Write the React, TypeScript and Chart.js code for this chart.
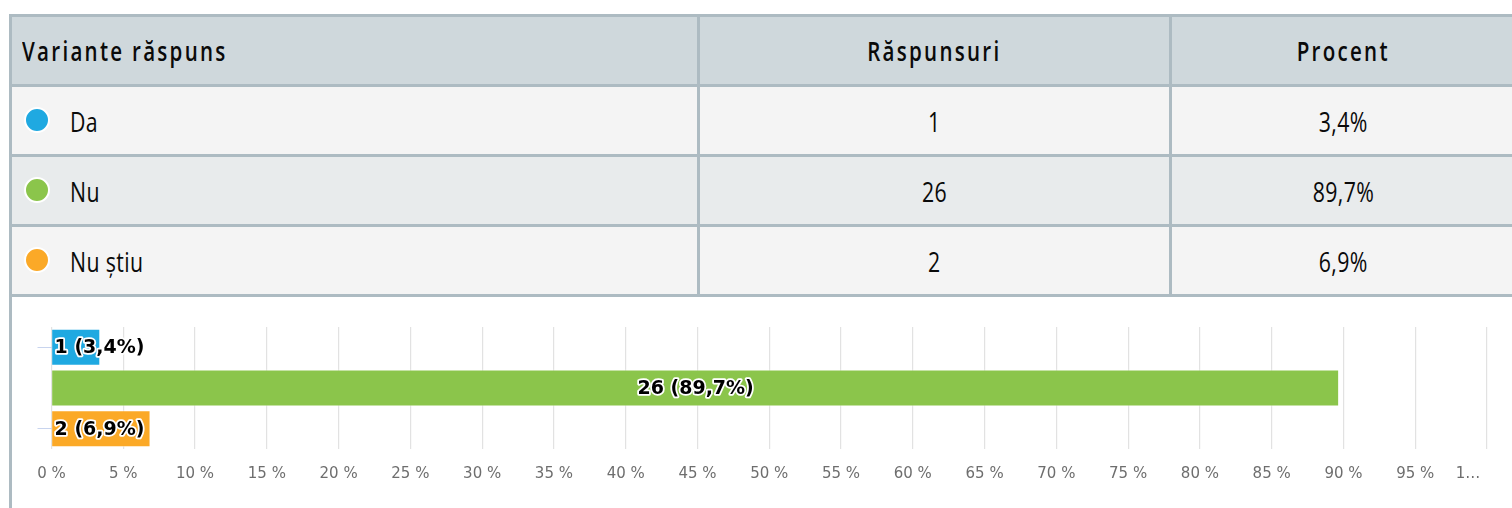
import React, { useEffect, useRef } from "react";
import { Chart, registerables } from "chart.js";

Chart.register(...registerables);

// ---- data ----
const categories = ["Da", "Nu", "Nu știu"];
const responses = [1, 26, 2];
const percents = [3.4, 89.7, 6.9];
const percentLabels = ["3,4%", "89,7%", "6,9%"];
const colors = ["#1fa9e1", "#8bc54b", "#fba927"];
const headers = ["Variante răspuns", "Răspunsuri", "Procent"];
const xTickLabels = [
  "0 %", "5 %", "10 %", "15 %", "20 %", "25 %", "30 %", "35 %", "40 %", "45 %",
  "50 %", "55 %", "60 %", "65 %", "70 %", "75 %", "80 %", "85 %", "90 %", "95 %",
  "1…\u00a0\u00a0\u00a0\u00a0\u00a0\u00a0\u00a0\u00a0",
];

const BORDER = "#adbbc2";
const TABLE_FONT = "'Open Sans', 'Noto Sans', sans-serif";
const SCALE_X = 0.76;

const barLabelPlugin = {
  id: "barLabels",
  afterDatasetsDraw(chart: any) {
    const ctx = chart.ctx;
    const meta = chart.getDatasetMeta(0);
    ctx.save();
    ctx.font = "bold 19px 'DejaVu Sans'";
    ctx.textBaseline = "middle";
    ctx.lineJoin = "round";
    meta.data.forEach((bar: any, i: number) => {
      const text = `${responses[i]} (${percentLabels[i]})`;
      const w = ctx.measureText(text).width;
      const { x, y, base } = bar.getProps(["x", "y", "base"], true);
      const bw = x - base;
      let tx: number;
      if (w + 10 < bw) {
        ctx.textAlign = "center";
        tx = (x + base) / 2;
      } else {
        ctx.textAlign = "left";
        tx = base + 2.5;
      }
      ctx.lineWidth = 3.5;
      ctx.strokeStyle = "#ffffff";
      ctx.strokeText(text, tx, y + 1);
      ctx.fillStyle = "#000000";
      ctx.fillText(text, tx, y + 1);
    });
    ctx.restore();
  },
};

function BarChart() {
  const ref = useRef<HTMLCanvasElement | null>(null);
  useEffect(() => {
    if (!ref.current) return;
    const chart = new Chart(ref.current, {
      type: "bar",
      data: {
        labels: categories,
        datasets: [
          {
            data: percents,
            backgroundColor: colors,
            borderColor: "rgba(255,255,255,0.6)",
            borderWidth: 1,
            categoryPercentage: 1,
            barPercentage: 0.91,
          },
        ],
      },
      options: {
        indexAxis: "y",
        animation: false,
        responsive: true,
        maintainAspectRatio: false,
        layout: { padding: { left: 0, right: 25, top: 30, bottom: 0 } },
        plugins: { legend: { display: false }, tooltip: { enabled: false } },
        scales: {
          x: {
            type: "linear",
            min: 0,
            max: 100,
            position: "bottom",
            border: { display: false },
            grid: { color: "#e2e2e2", lineWidth: 1.2, drawTicks: false },
            ticks: {
              stepSize: 5,
              autoSkip: false,
              maxRotation: 0,
              padding: 16,
              color: "#6e6e6e",
              font: { family: "'DejaVu Sans'", size: 15 },
              callback: (_v: any, i: number) => xTickLabels[i],
            },
            afterFit: (scale: any) => {
              scale.paddingLeft = 0;
              scale.paddingRight = 0;
              scale.height = 59;
            },
          },
          y: {
            type: "category",
            border: { display: false },
            grid: {
              offset: false,
              drawOnChartArea: false,
              drawTicks: true,
              tickLength: 14,
              color: (c: any) => (c.index === 1 ? "rgba(0,0,0,0)" : "#c8d4ee"),
            },
            ticks: { display: false },
            afterFit: (scale: any) => {
              scale.width = 39.5;
            },
          },
        },
      },
      plugins: [barLabelPlugin],
    });
    return () => chart.destroy();
  }, []);
  return (
    <div style={{ position: "relative", width: 1500, height: 211 }}>
      <canvas ref={ref} />
    </div>
  );
}

const cellBase: React.CSSProperties = {
  display: "flex",
  alignItems: "center",
  boxSizing: "border-box",
  height: "100%",
  fontFamily: TABLE_FONT,
  color: "#0a0a0a",
  whiteSpace: "nowrap",
};

function Txt({ children, origin }: { children: React.ReactNode; origin: string }) {
  return (
    <span style={{ display: "inline-block", transform: `scaleX(${SCALE_X})`, transformOrigin: origin }}>
      {children}
    </span>
  );
}

export default function App() {
  const rowBgs = ["#f4f4f4", "#e8ebec", "#f4f4f4"];
  return (
    <div
      style={{
        position: "absolute",
        left: 0,
        top: 0,
        width: 1512,
        height: 508,
        overflow: "hidden",
        background: "#ffffff",
      }}
    >
      <div
        style={{
          position: "absolute",
          left: 9,
          top: 14,
          width: 1509,
          height: 494,
          borderLeft: `3px solid ${BORDER}`,
          borderTop: `3px solid ${BORDER}`,
          borderRight: `3px solid ${BORDER}`,
          boxSizing: "border-box",
        }}
      >
        {/* header */}
        <div
          style={{
            display: "flex",
            height: 67,
            background: "#cfd8dc",
            borderBottom: `3px solid ${BORDER}`,
            fontWeight: 600,
            fontSize: 27,
            letterSpacing: 3,
          }}
        >
          <div style={{ ...cellBase, width: 685, paddingLeft: 10 }}>
            <Txt origin="left center">{headers[0]}</Txt>
          </div>
          <div style={{ ...cellBase, width: 472, borderLeft: `3px solid ${BORDER}`, justifyContent: "center" }}>
            <Txt origin="center center">{headers[1]}</Txt>
          </div>
          <div style={{ ...cellBase, flex: 1, borderLeft: `3px solid ${BORDER}`, justifyContent: "center" }}>
            <Txt origin="center center">{headers[2]}</Txt>
          </div>
        </div>
        {categories.map((cat, i) => (
          <div
            key={cat}
            style={{
              display: "flex",
              height: 67,
              background: rowBgs[i],
              borderBottom: `3px solid ${BORDER}`,
              fontSize: 28,
              letterSpacing: 0.5,
            }}
          >
            <div style={{ ...cellBase, width: 685, paddingLeft: 12, paddingTop: 1 }}>
              <span
                style={{
                  display: "inline-block",
                  boxSizing: "border-box",
                  width: 26,
                  height: 26,
                  borderRadius: "50%",
                  background: colors[i],
                  border: "2px solid #ffffff",
                  marginRight: 20,
                  marginTop: -3,
                  flex: "none",
                }}
              />
              <Txt origin="left center">{cat}</Txt>
            </div>
            <div style={{ ...cellBase, width: 472, borderLeft: `3px solid ${BORDER}`, justifyContent: "center", paddingTop: 1 }}>
              <Txt origin="center center">{responses[i]}</Txt>
            </div>
            <div style={{ ...cellBase, flex: 1, borderLeft: `3px solid ${BORDER}`, justifyContent: "center", paddingTop: 1 }}>
              <Txt origin="center center">{percentLabels[i]}</Txt>
            </div>
          </div>
        ))}
        <BarChart />
      </div>
    </div>
  );
}
